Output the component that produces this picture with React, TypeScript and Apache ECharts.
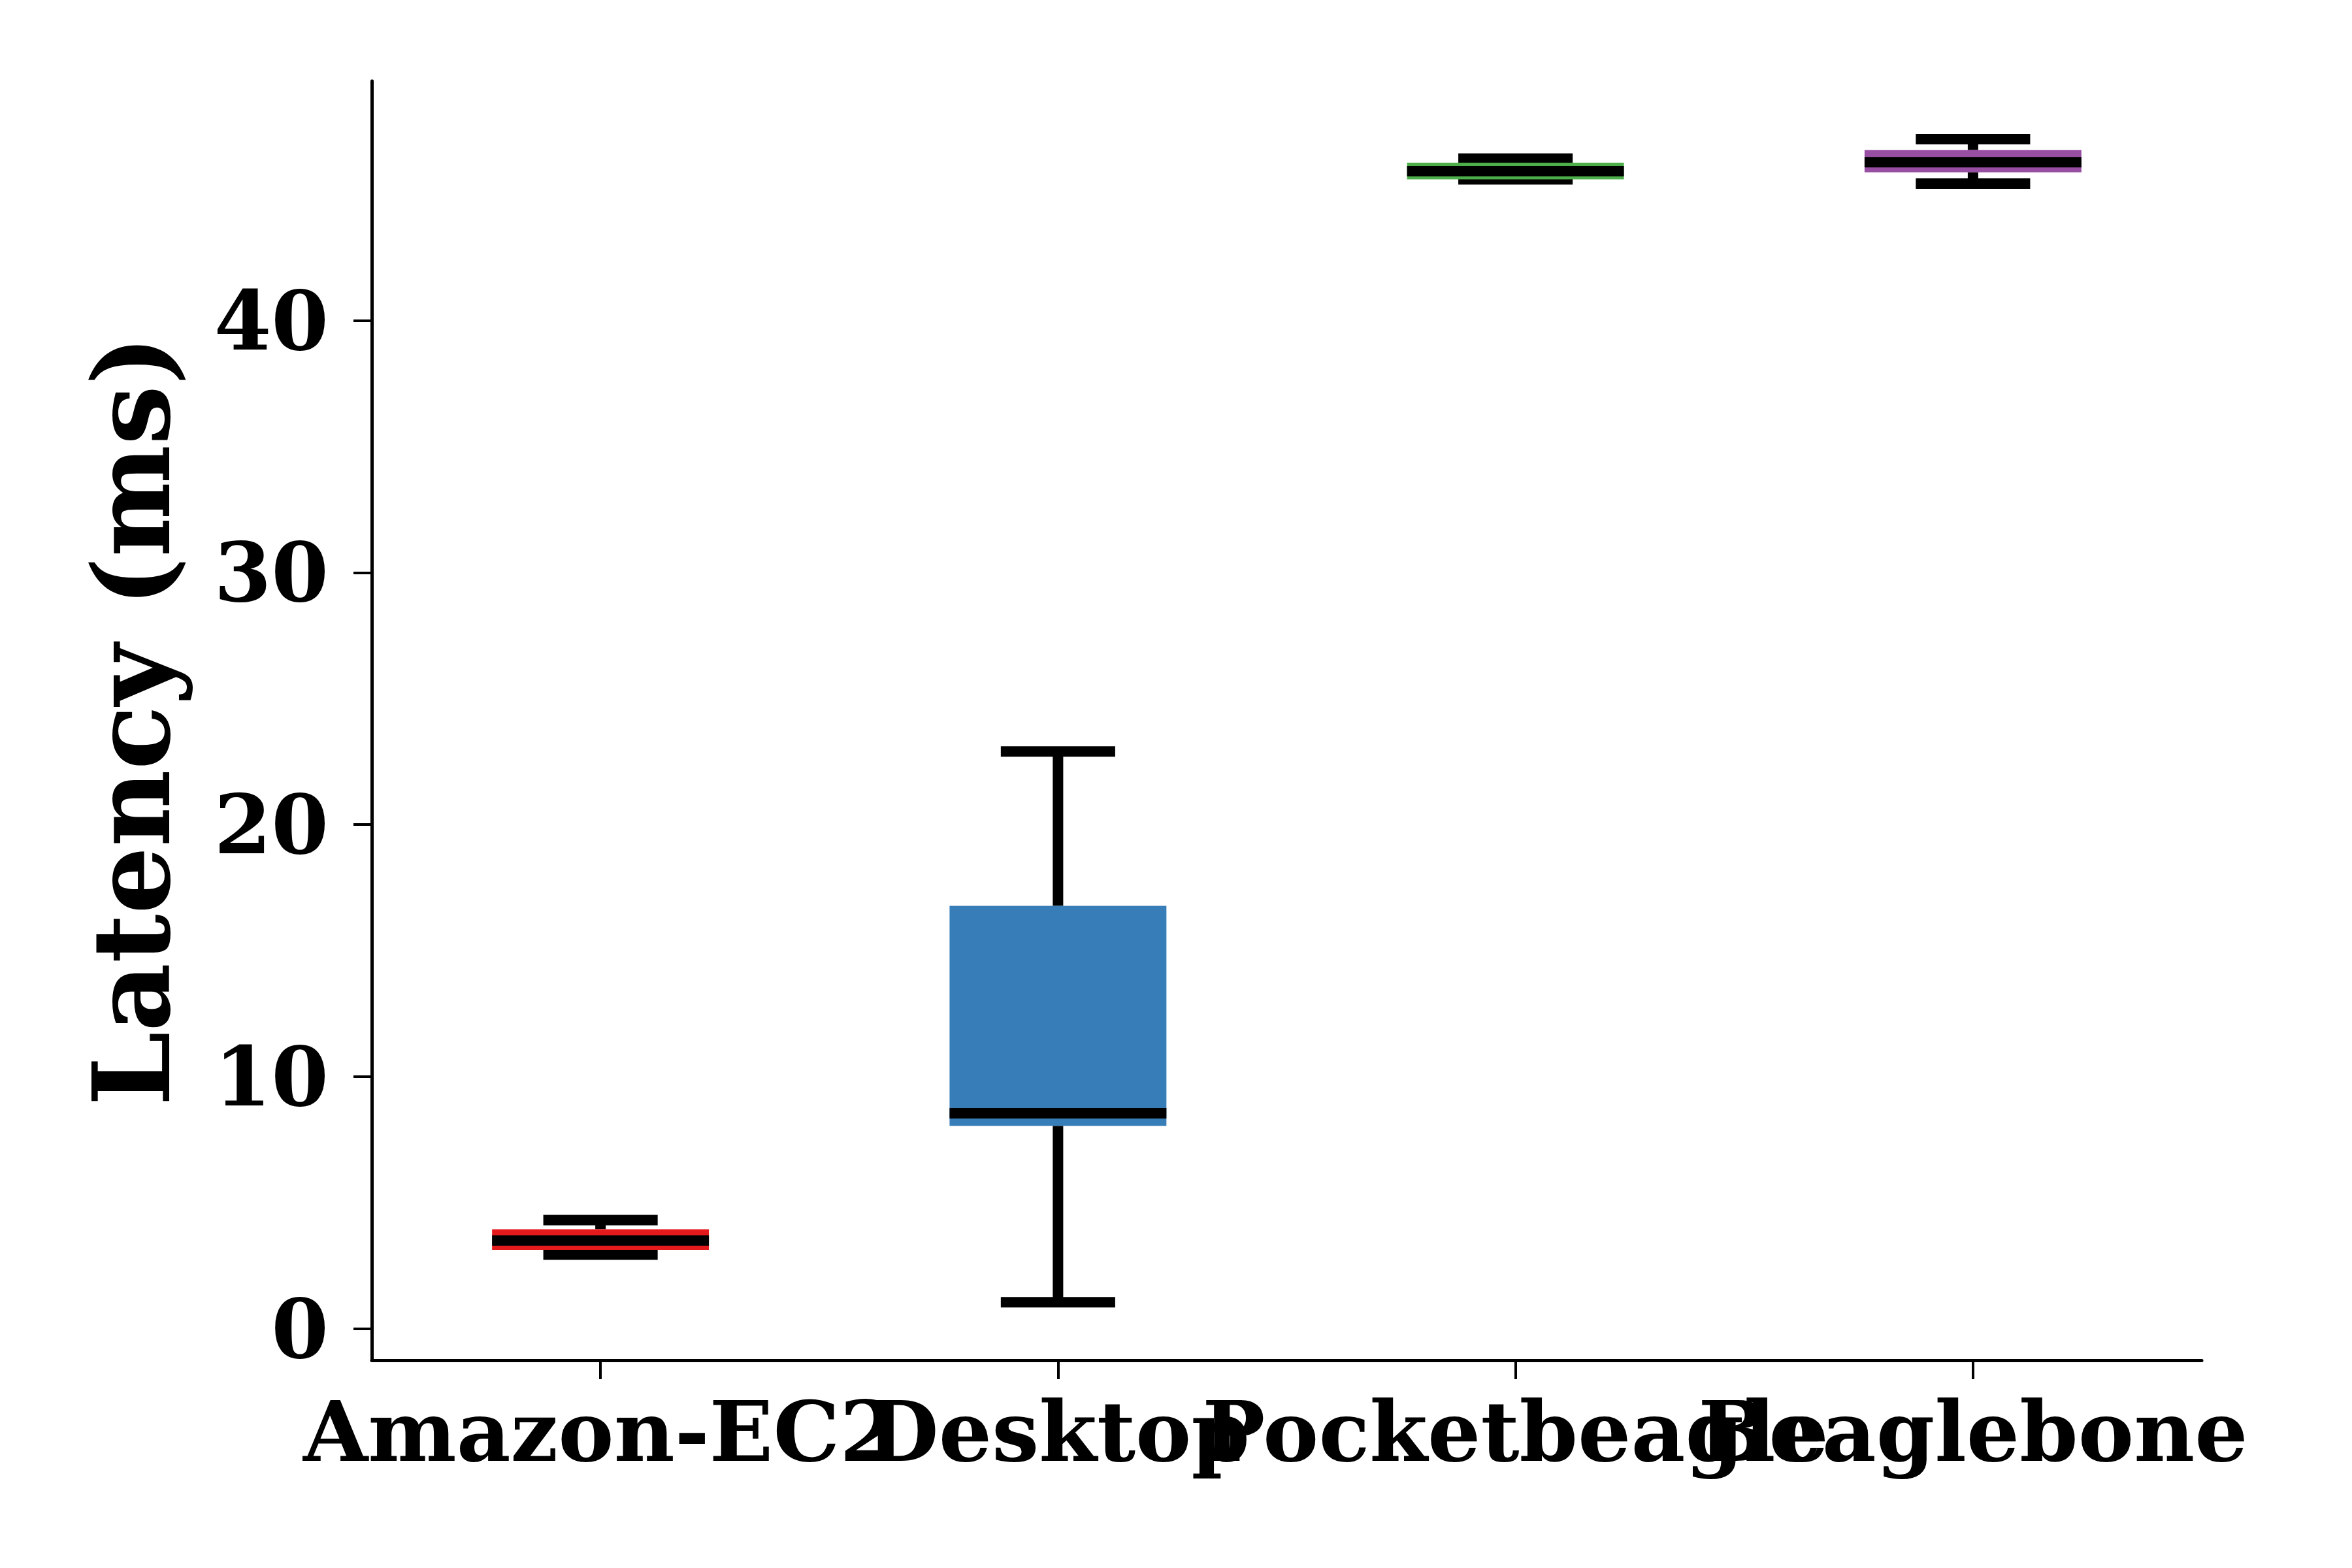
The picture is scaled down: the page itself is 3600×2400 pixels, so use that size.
import React, { useEffect, useRef } from "react";
import * as echarts from "echarts";

const categories = ["Amazon-EC2", "Desktop", "Pocketbeagle", "Beaglebone"];
const lowWhisker = [2.94, 1.05, 45.6, 45.43];
const q1Values = [3.13, 8.05, 45.6, 45.88];
const medianValues = [3.5, 8.55, 45.92, 46.28];
const q3Values = [3.95, 16.78, 46.26, 46.76];
const highWhisker = [4.31, 22.9, 46.42, 47.19];
const boxColors = ["#e41a1c", "#377eb8", "#4daf4a", "#984ea3"];
const yTicks = [0, 10, 20, 30, 40];

const FONT = "DejaVu Serif";

export default function App() {
  const ref = useRef<HTMLDivElement>(null);
  useEffect(() => {
    if (!ref.current) return;
    const chart = echarts.init(ref.current, null, { renderer: "svg" });
    const data = categories.map((_, i) => [
      i,
      lowWhisker[i],
      q1Values[i],
      medianValues[i],
      q3Values[i],
      highWhisker[i],
    ]);
    chart.setOption({
      animation: false,
      backgroundColor: "#ffffff",
      grid: { left: 569, right: 230, top: 124, bottom: 318 },
      xAxis: {
        type: "category",
        data: categories,
        boundaryGap: true,
        axisLine: { show: true, onZero: false, lineStyle: { color: "#000", width: 5 } },
        axisTick: { show: true, alignWithLabel: true, length: 29, lineStyle: { color: "#000", width: 4 } },
        axisLabel: {
          interval: 0,
          margin: 45,
          color: "#000",
          fontFamily: FONT,
          fontWeight: "bold",
          fontSize: 128,
        },
        splitLine: { show: false },
      },
      yAxis: {
        type: "value",
        min: -1.25,
        max: 49.5,
        name: "Latency (ms)",
        nameLocation: "middle",
        nameRotate: 90,
        nameGap: 286,
        nameTextStyle: { color: "#000", fontFamily: FONT, fontWeight: "bold", fontSize: 162 },
        axisLine: { show: true, lineStyle: { color: "#000", width: 5 } },
        axisTick: { show: true, length: 28, lineStyle: { color: "#000", width: 4 }, customValues: yTicks },
        axisLabel: {
          margin: 66,
          color: "#000",
          fontFamily: FONT,
          fontWeight: "bold",
          fontSize: 126,
          customValues: yTicks,
        },
        splitLine: { show: false },
      },
      series: [
        {
          type: "custom",
          encode: { x: 0, y: [1, 2, 3, 4, 5] },
          data,
          renderItem: (params: any, api: any) => {
            const idx = api.value(0);
            const i = params.dataIndex;
            const band = api.size([1, 0])[0];
            const pLow = api.coord([idx, api.value(1)]);
            const pQ1 = api.coord([idx, api.value(2)]);
            const pMed = api.coord([idx, api.value(3)]);
            const pQ3 = api.coord([idx, api.value(4)]);
            const pHigh = api.coord([idx, api.value(5)]);
            const x = pMed[0];
            const boxW = band * 0.474;
            const capW = band * 0.25;
            const lw = 16;
            const black = { stroke: "#000", lineWidth: lw, fill: null };
            return {
              type: "group",
              children: [
                { type: "line", shape: { x1: x, y1: pQ1[1], x2: x, y2: pLow[1] }, style: black },
                { type: "line", shape: { x1: x, y1: pQ3[1], x2: x, y2: pHigh[1] }, style: black },
                { type: "line", shape: { x1: x - capW / 2, y1: pLow[1], x2: x + capW / 2, y2: pLow[1] }, style: black },
                { type: "line", shape: { x1: x - capW / 2, y1: pHigh[1], x2: x + capW / 2, y2: pHigh[1] }, style: black },
                {
                  type: "rect",
                  shape: { x: x - boxW / 2, y: pQ3[1], width: boxW, height: pQ1[1] - pQ3[1] },
                  style: { fill: boxColors[i], stroke: null },
                },
                { type: "line", shape: { x1: x - boxW / 2, y1: pMed[1], x2: x + boxW / 2, y2: pMed[1] }, style: black },
              ],
            };
          },
        },
      ],
    });
    return () => chart.dispose();
  }, []);
  return (
    <div
      ref={ref}
      style={{ position: "fixed", left: 0, top: 0, width: 3600, height: 2400, background: "#fff" }}
    />
  );
}
